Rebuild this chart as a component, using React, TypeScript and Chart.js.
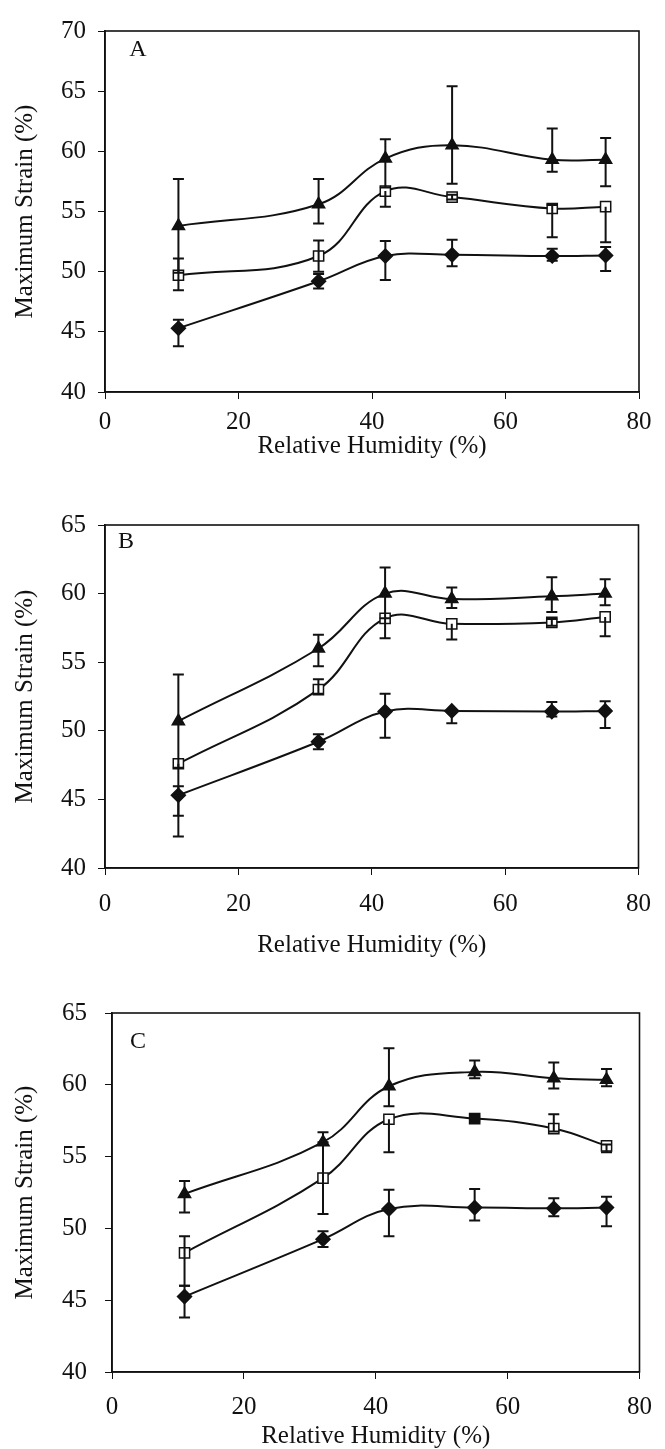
import React, { useEffect, useRef } from "react";
import { Chart, registerables } from "chart.js";

Chart.register(...registerables);

// ---------- data ----------
const xTicks = [0, 20, 40, 60, 80];
const yTicksA = [40, 45, 50, 55, 60, 65, 70];
const yTicksBC = [40, 45, 50, 55, 60, 65];

const xAB = [11, 32, 42, 52, 67, 75];
const xC = [11, 32, 42, 55, 67, 75];

// Panel A
const triA = [53.8, 55.6, 59.4, 60.5, 59.3, 59.3];
const triAPlus = [3.9, 2.1, 1.6, 4.9, 2.6, 1.8];
const triAMinus = [3.9, 1.6, 2.4, 3.2, 1.0, 2.2];
const sqA = [49.7, 51.3, 56.7, 56.2, 55.25, 55.4];
const sqAPlus = [1.4, 1.3, 0, 0.2, 0.3, 0];
const sqAMinus = [1.25, 1.3, 1.3, 0.2, 2.4, 2.95];
const diaA = [45.3, 49.2, 51.3, 51.4, 51.3, 51.35];
const diaAPlus = [0.7, 0.6, 1.25, 1.25, 0.6, 0.7];
const diaAMinus = [1.5, 0.6, 2.0, 0.95, 0.4, 1.3];

// Panel B
const triB = [50.7, 56.0, 60.0, 59.6, 59.8, 60.0];
const triBPlus = [3.4, 1.0, 1.9, 0.85, 1.4, 1.05];
const triBMinus = [3.4, 1.3, 1.8, 0.65, 1.15, 0.85];
const sqB = [47.6, 53.0, 58.2, 57.8, 57.9, 58.3];
const sqBPlus = [0, 0.75, 0, 0, 0.25, 0];
const sqBMinus = [3.8, 0.3, 1.45, 1.15, 0.25, 1.4];
const diaB = [45.3, 49.2, 51.4, 51.45, 51.4, 51.45];
const diaBPlus = [0.65, 0.55, 1.3, 0, 0.7, 0.7];
const diaBMinus = [3.0, 0.55, 1.9, 0.9, 0.35, 1.25];

// Panel C
const triC = [52.4, 56.0, 59.9, 60.9, 60.45, 60.35];
const triCPlus = [0.9, 0.7, 2.65, 0.8, 1.1, 0.75];
const triCMinus = [1.3, 0, 1.4, 0.45, 0.7, 0.45];
const sqC = [48.3, 53.5, 57.6, 57.65, 56.95, 55.75];
const sqCPlus = [1.15, 2.5, 0, 0.15, 1.0, 0.1];
const sqCMinus = [2.3, 2.5, 2.3, 0.15, 0.2, 0.45];
const diaC = [45.25, 49.25, 51.35, 51.45, 51.4, 51.45];
const diaCPlus = [0.75, 0.55, 1.35, 1.3, 0.7, 0.75];
const diaCMinus = [1.45, 0.55, 1.9, 0.9, 0.55, 1.3];

const xTitle = "Relative Humidity (%)";
const yTitle = "Maximum Strain (%)";

// ---------- styles ----------
const FONT = "'Liberation Serif', 'Times New Roman', serif";
const INK = "#111";
const W = 665;

type Series = { values: number[]; plus: number[]; minus: number[]; style: string; radius: number; fill: any };

type Spec = {
  letter: string;
  top: number;
  height: number;
  x: number[];
  yTicks: number[];
  series: Series[];
  plotLeft: number;
  plotRight: number;
  plotTop: number;
  plotBottom: number;
  xScaleH: number;
  xTickPad: number;
  yTickPad: number;
  yTitlePad: number;
  letterX: number;
  letterY: number;
};

const mk = (values: number[], plus: number[], minus: number[], kind: string, fill?: any): Series => {
  if (kind === "tri") return { values, plus, minus, style: "triangle", radius: 7, fill: INK };
  if (kind === "sq") return { values, plus, minus, style: "rect", radius: 7.2, fill: fill || "#fff" };
  return { values, plus, minus, style: "rectRot", radius: 7, fill: INK };
};

const specs: Spec[] = [
  {
    letter: "A", top: 0, height: 470, x: xAB, yTicks: yTicksA,
    series: [mk(diaA, diaAPlus, diaAMinus, "dia"), mk(sqA, sqAPlus, sqAMinus, "sq"), mk(triA, triAPlus, triAMinus, "tri")],
    plotLeft: 105, plotRight: 639, plotTop: 31, plotBottom: 392,
    xScaleH: 67, xTickPad: 8, yTickPad: 12, yTitlePad: 13, letterX: 138, letterY: 50,
  },
  {
    letter: "B", top: 470, height: 490, x: xAB, yTicks: yTicksBC,
    series: [mk(diaB, diaBPlus, diaBMinus, "dia"), mk(sqB, sqBPlus, sqBMinus, "sq"), mk(triB, triBPlus, triBMinus, "tri")],
    plotLeft: 105, plotRight: 639, plotTop: 55, plotBottom: 398,
    xScaleH: 90, xTickPad: 14, yTickPad: 12, yTitlePad: 13, letterX: 126, letterY: 72,
  },
  {
    letter: "C", top: 960, height: 489, x: xC, yTicks: yTicksBC,
    series: [
      mk(diaC, diaCPlus, diaCMinus, "dia"),
      mk(sqC, sqCPlus, sqCMinus, "sq", ["#fff", "#fff", "#fff", INK, "#fff", "#fff"]),
      mk(triC, triCPlus, triCMinus, "tri"),
    ],
    plotLeft: 112, plotRight: 647, plotTop: 53, plotBottom: 412,
    xScaleH: 77, xTickPad: 13, yTickPad: 18, yTitlePad: 13, letterX: 138, letterY: 82,
  },
];

function Panel({ spec }: { spec: Spec }) {
  const ref = useRef<HTMLCanvasElement>(null);
  useEffect(() => {
    const canvas = ref.current!;
    const errorBars = {
      id: "errorBars",
      afterDatasetsDraw(chart: any) {
        const ctx = chart.ctx;
        const ys = chart.scales.y;
        ctx.save();
        ctx.strokeStyle = INK;
        ctx.lineWidth = 2;
        chart.data.datasets.forEach((ds: any, di: number) => {
          const meta = chart.getDatasetMeta(di);
          meta.data.forEach((pt: any, i: number) => {
            const v = ds.data[i].y;
            const p = ds.errPlus[i];
            const m = ds.errMinus[i];
            const x = pt.x;
            const yTop = ys.getPixelForValue(v + p);
            const yBot = ys.getPixelForValue(v - m);
            ctx.beginPath();
            ctx.moveTo(x, yTop);
            ctx.lineTo(x, yBot);
            if (p > 0) {
              ctx.moveTo(x - 5.5, yTop);
              ctx.lineTo(x + 5.5, yTop);
            }
            if (m > 0) {
              ctx.moveTo(x - 5.5, yBot);
              ctx.lineTo(x + 5.5, yBot);
            }
            ctx.stroke();
          });
        });
        ctx.restore();
      },
    };
    const frame = {
      id: "frame",
      afterDraw(chart: any) {
        const { ctx, chartArea: a } = chart;
        ctx.save();
        ctx.strokeStyle = INK;
        ctx.lineWidth = 1.6;
        ctx.strokeRect(a.left, a.top, a.right - a.left, a.bottom - a.top);
        ctx.fillStyle = INK;
        ctx.font = `24px ${FONT}`;
        ctx.textAlign = "center";
        ctx.textBaseline = "middle";
        ctx.fillText(spec.letter, spec.letterX, spec.letterY);
        ctx.restore();
      },
    };

    const chart = new Chart(canvas, {
      type: "line",
      data: {
        datasets: spec.series.map((s) => ({
          data: spec.x.map((x, i) => ({ x, y: s.values[i] })),
          errPlus: s.plus,
          errMinus: s.minus,
          borderColor: INK,
          borderWidth: 2,
          tension: 0.4,
          fill: false,
          pointStyle: s.style,
          pointRadius: s.radius,
          pointBackgroundColor: s.fill,
          pointBorderColor: INK,
          pointBorderWidth: 1.5,
        })) as any,
      },
      options: {
        responsive: false,
        animation: false,
        events: [],
        layout: {
          padding: {
            left: 0,
            top: spec.plotTop,
            right: W - spec.plotRight,
            bottom: spec.height - spec.plotBottom - spec.xScaleH,
          },
        },
        plugins: { legend: { display: false }, tooltip: { enabled: false } },
        scales: {
          x: {
            type: "linear",
            min: xTicks[0],
            max: xTicks[xTicks.length - 1],
            afterBuildTicks: (s: any) => {
              s.ticks = xTicks.map((v) => ({ value: v }));
            },
            afterFit: (s: any) => {
              s.height = spec.xScaleH;
            },
            grid: { drawOnChartArea: false, drawTicks: true, tickLength: 7, color: INK, lineWidth: 1 },
            border: { display: true, color: INK, width: 1.6 },
            ticks: {
              autoSkip: false,
              maxRotation: 0,
              padding: spec.xTickPad,
              color: INK,
              font: { family: FONT, size: 25, lineHeight: 1.2 },
            },
            title: {
              display: true,
              text: xTitle,
              color: INK,
              padding: 0,
              font: { family: FONT, size: 25, lineHeight: 1 },
            },
          },
          y: {
            type: "linear",
            min: spec.yTicks[0],
            max: spec.yTicks[spec.yTicks.length - 1],
            afterBuildTicks: (s: any) => {
              s.ticks = spec.yTicks.map((v) => ({ value: v }));
            },
            afterFit: (s: any) => {
              s.width = spec.plotLeft;
            },
            grid: { drawOnChartArea: false, drawTicks: true, tickLength: 7, color: INK, lineWidth: 1 },
            border: { display: true, color: INK, width: 1.6 },
            ticks: {
              autoSkip: false,
              padding: spec.yTickPad,
              color: INK,
              font: { family: FONT, size: 25, lineHeight: 1.2 },
            },
            title: {
              display: true,
              text: yTitle,
              color: INK,
              padding: { top: spec.yTitlePad, bottom: 0 },
              font: { family: FONT, size: 25, lineHeight: 1 },
            },
          },
        },
      } as any,
      plugins: [errorBars, frame],
    });
    return () => chart.destroy();
  }, [spec]);

  return (
    <canvas
      ref={ref}
      width={W}
      height={spec.height}
      style={{ position: "absolute", left: 0, top: spec.top, width: W, height: spec.height }}
    />
  );
}

export default function App() {
  return (
    <div style={{ position: "absolute", left: 0, top: 0, width: W, height: 1449, background: "#fff" }}>
      {specs.map((s) => (
        <Panel key={s.letter} spec={s} />
      ))}
    </div>
  );
}
